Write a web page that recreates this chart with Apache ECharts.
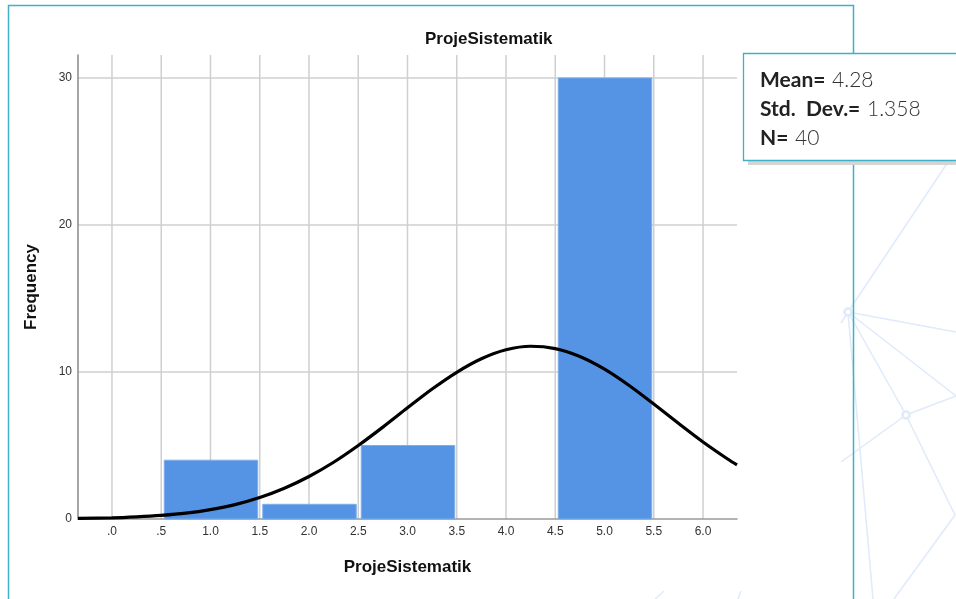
<!DOCTYPE html>
<html>
<head>
<meta charset="utf-8">
<script src="https://cdn.jsdelivr.net/npm/echarts@6/dist/echarts.min.js"></script>
<style>
html,body{margin:0;padding:0;background:#fff;}
#chart{width:956px;height:599px;}
</style>
</head>
<body>
<div id="chart"></div>
<script>
// Histogram bins (ProjeSistematik)
var binStart = [0.5, 1.5, 2.5, 3.5, 4.5];
var binEnd   = [1.5, 2.5, 3.5, 4.5, 5.5];
var frequency = [4, 1, 5, 0, 30];
// Normal curve
var curveX = [-0.345, 0, 0.25, 0.5, 0.75, 1.0, 1.25, 1.5, 1.75, 2.0, 2.25, 2.5, 2.75, 3.0, 3.25, 3.5, 3.75, 4.0, 4.25, 4.5, 4.75, 5.0, 5.25, 5.5, 5.75, 6.0, 6.25, 6.345];
var curveY = [0.04, 0.08, 0.15, 0.25, 0.40, 0.64, 0.98, 1.46, 2.09, 2.89, 3.86, 5.00, 6.25, 7.56, 8.84, 9.98, 10.90, 11.51, 11.75, 11.59, 11.05, 10.19, 9.08, 7.82, 6.51, 5.24, 4.08, 3.68];
// Tick labels
var xTicks = [0, 0.5, 1.0, 1.5, 2.0, 2.5, 3.0, 3.5, 4.0, 4.5, 5.0, 5.5, 6.0];
var xTickLabels = ['.0', '.5', '1.0', '1.5', '2.0', '2.5', '3.0', '3.5', '4.0', '4.5', '5.0', '5.5', '6.0'];
var yTicks = [0, 10, 20, 30];
var stats = { mean: '4.28', sd: '1.358', n: '40' };

var chart = echarts.init(document.getElementById('chart'));
var deco = '#dfeafb';
function ln(x1,y1,x2,y2){return {type:'line',silent:true,z:-10,shape:{x1:x1,y1:y1,x2:x2,y2:y2},style:{stroke:deco,lineWidth:1.5}};}

var barData = binStart.map(function(s,i){return [s, binEnd[i], frequency[i]];}).filter(function(d){return d[2]>0;});
var curveData = curveX.map(function(x,i){return [x, curveY[i]];});
var FF = '"Liberation Sans", Arial, sans-serif';

chart.setOption({
  animation:false,
  backgroundColor:'#fff',
  grid:{left:78, right:219, top:55, bottom:80},
  xAxis:{
    type:'value', min:-0.345, max:6.345,
    axisLine:{show:true, onZero:false, lineStyle:{color:'#999', width:1.5}},
    axisTick:{show:false, customValues:xTicks},
    axisLabel:{customValues:xTicks, color:'#333', fontFamily:FF, fontSize:12, margin:7,
      formatter:function(v){var i=xTicks.indexOf(v);return i>=0?xTickLabels[i]:'';}},
    splitLine:{show:false},
    name:'ProjeSistematik', nameLocation:'middle', nameGap:40,
    nameTextStyle:{fontFamily:FF, fontWeight:'bold', fontSize:17, color:'#111'}
  },
  yAxis:{
    type:'value', min:0, max:31.56,
    axisLine:{show:true, onZero:false, lineStyle:{color:'#888', width:1.5}},
    axisTick:{show:false, customValues:yTicks},
    axisLabel:{customValues:yTicks, color:'#333', fontFamily:FF, fontSize:12, margin:6},
    splitLine:{show:false},
    name:'Frequency', nameLocation:'middle', nameGap:38, nameRotate:90,
    nameTextStyle:{fontFamily:FF, fontWeight:'bold', fontSize:17, color:'#111'}
  },
  series:[
    { // grid lines
      type:'custom', z:0, silent:true,
      data:[0],
      renderItem:function(params, api){
        var ch=[];
        var top=api.coord([0,31.56])[1], bot=api.coord([0,0])[1];
        var left=api.coord([-0.345,0])[0], right=api.coord([6.345,0])[0];
        xTicks.forEach(function(t){var x=api.coord([t,0])[0];
          ch.push({type:'line',shape:{x1:x,y1:top,x2:x,y2:bot},style:{stroke:'#cfcfcf',lineWidth:1.5}});});
        yTicks.forEach(function(t){ if(t===0) return; var y=api.coord([0,t])[1];
          ch.push({type:'line',shape:{x1:left,y1:y,x2:right,y2:y},style:{stroke:'#cfcfcf',lineWidth:1.5}});});
        return {type:'group',children:ch};
      }
    },
    { // histogram bars
      type:'custom', z:2, data:barData,
      renderItem:function(params, api){
        var p0=api.coord([api.value(0),api.value(2)]);
        var p1=api.coord([api.value(1),0]);
        return {type:'rect',shape:{x:p0[0]+3,y:p0[1],width:p1[0]-p0[0]-5,height:p1[1]-p0[1]},
          style:{fill:'#5594e4',stroke:'#7eaeea',lineWidth:1}};
      }
    },
    { type:'line', z:5, data:curveData, smooth:0.3, showSymbol:false, symbol:'none',
      lineStyle:{color:'#000', width:3.2} }
  ],
  graphic:[
    {type:'rect',silent:true,z:-5,shape:{x:8.5,y:5.5,width:845,height:600},style:{fill:'none',stroke:'#3fb0c8',lineWidth:1.5}},
    {type:'text',left:425,top:31,style:{text:'ProjeSistematik',font:'bold 17px "Liberation Sans", Arial',fill:'#111'}},
    ln(948,162,848,312), ln(848,312,956,332), ln(848,312,956,396), ln(848,312,906,415), ln(848,312,873,599), ln(848,312,841,323),
    ln(906,415,956,396), ln(906,415,841,462), ln(906,415,955,515), ln(955,515,894,599), ln(655,599,664,591), ln(738,599,741,591),
    {type:'circle',silent:true,z:-9,shape:{cx:848,cy:312,r:3.5},style:{fill:'#fff',stroke:deco,lineWidth:2.5}},
    {type:'circle',silent:true,z:-9,shape:{cx:906,cy:415,r:3.5},style:{fill:'#fff',stroke:deco,lineWidth:2.5}},
    {type:'rect',silent:true,z:10,shape:{x:748,y:159,width:212,height:6},style:{fill:'#d4d4d4'}},
    {type:'rect',silent:true,z:11,shape:{x:743.5,y:53.5,width:220,height:107},style:{fill:'#fff',stroke:'#3fb0c8',lineWidth:1.3}},
    {type:'text',z:12,left:760,top:66,style:{rich:{b:{font:'bold 21px Lato, "Noto Sans"',fill:'#222'},r:{font:'300 21px Lato, "Noto Sans"',fill:'#333'}},
      text:'{b|Mean=}  {r|'+stats.mean+'}\n{b|Std.  Dev.=}  {r|'+stats.sd+'}\n{b|N=}  {r|'+stats.n+'}', lineHeight:29}}
  ]
});
</script>
</body>
</html>
